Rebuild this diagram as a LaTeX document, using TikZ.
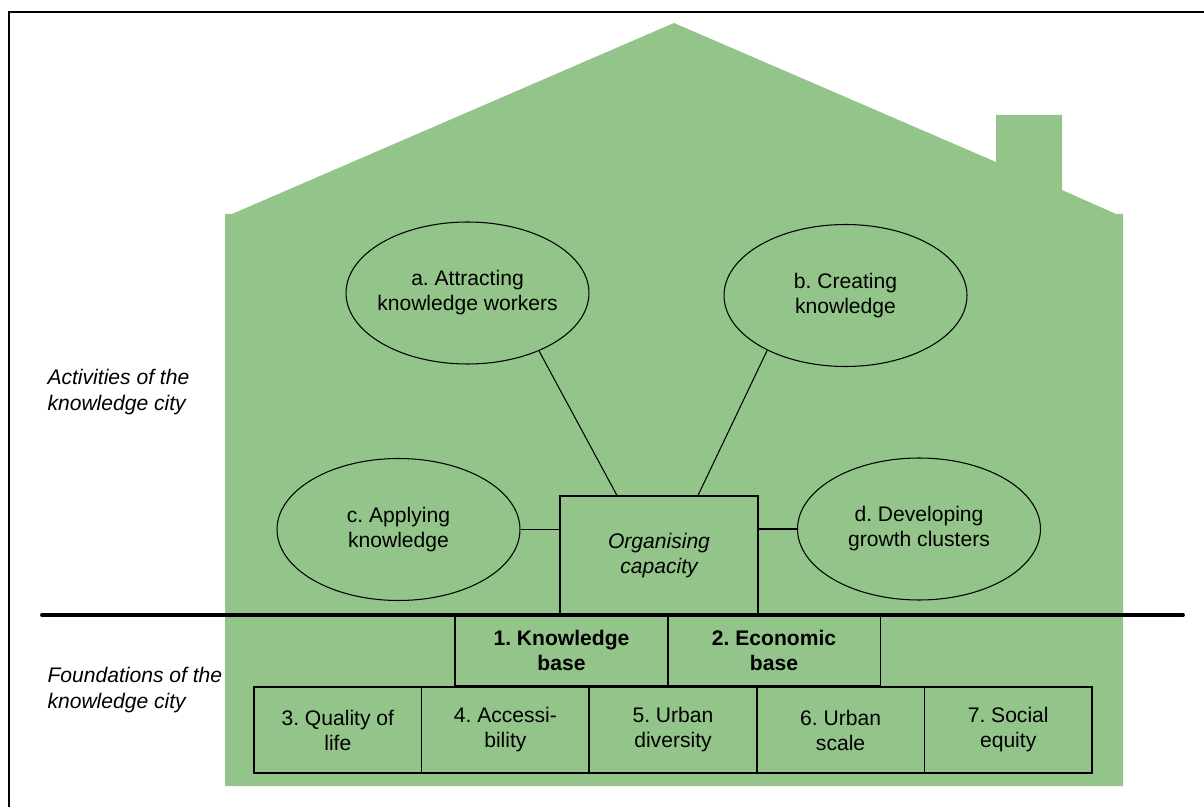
\documentclass[tikz,border=0pt]{standalone}
\usepackage{fontspec}
\setmainfont{Liberation Sans}
\usetikzlibrary{shapes.geometric}
\definecolor{housegreen}{RGB}{147,196,137}
\frenchspacing
\begin{document}
\begin{tikzpicture}[x=0.02cm,y=-0.02cm,line width=0.6pt,
  font=\fontsize{12}{14.2}\selectfont,
  activity/.style={draw, ellipse, minimum width=4.86cm, minimum height=2.84cm, inner sep=-4pt, align=center},
  organiser/.style={draw, minimum width=3.96cm, minimum height=2.38cm, inner sep=0pt, align=center, font=\fontsize{12}{14.2}\selectfont\itshape},
  basebox/.style={draw, line width=0.9pt, minimum width=4.26cm, minimum height=1.42cm, inner sep=0pt, align=center, font=\fontsize{12}{14.2}\selectfont\bfseries},
  factor/.style={draw, line width=0.8pt, minimum width=3.352cm, minimum height=1.72cm, inner sep=0pt, align=center},
  side/.style={anchor=west, align=left, inner sep=0pt, font=\fontsize{12}{15}\selectfont\itshape}]
\useasboundingbox (0,0) rectangle (1204,807);
% frame, only top and left edge fall inside the page
\draw[line width=1.4pt] (1230,12) -- (9,12) -- (9,830);
% house with chimney
\fill[housegreen] (225,786) -- (225,214) -- (232,214) -- (674,23) -- (996,162)
  -- (996,115) -- (1062,115) -- (1062,190) -- (1116,214) -- (1123,214) -- (1123,786) -- cycle;
\node[side] (act) at (47,392) {Activities of the\\knowledge city};
\node[side] (fnd) at (47,690) {Foundations of the\\knowledge city};
\node[activity] (a) at (467.5,293) {a. Attracting\\knowledge workers};
\node[activity] (b) at (845.5,295.5) {b. Creating\\knowledge};
\node[activity] (c) at (398.5,529.5) {c. Applying\\knowledge};
\node[activity] (d) at (919,529) {d. Developing\\growth clusters};
\node[organiser] (o) at (659,555.5) {Organising\\capacity};
\path[draw] (a.-39) -- (o.125);
\path[draw] (b.215) -- (o.57);
\path[draw] (c.east) -- (c.east -| o.west);
\path[draw] (d.west) -- (d.west -| o.east);
% dividing line between activities and foundations
\coordinate (l) at (42,615);
\coordinate (r) at (1183,615);
\node[basebox] (1) at (561.5,650.5) {1. Knowledge\\base};
\node[basebox] (2) at (774,650.5) {2. Economic\\base};
\path[draw,line width=2.2pt,line cap=round] (l) -- (r);
\node[factor] (3) at (337.8,730) {3. Quality of\\life};
\node[factor] (4) at (505.4,730) {4. Accessi-\\bility};
\node[factor] (5) at (673,730) {5. Urban\\diversity};
\node[factor] (6) at (840.6,730) {6. Urban\\scale};
\node[factor] (7) at (1008.2,730) {7. Social\\equity};
\end{tikzpicture}
\end{document}
